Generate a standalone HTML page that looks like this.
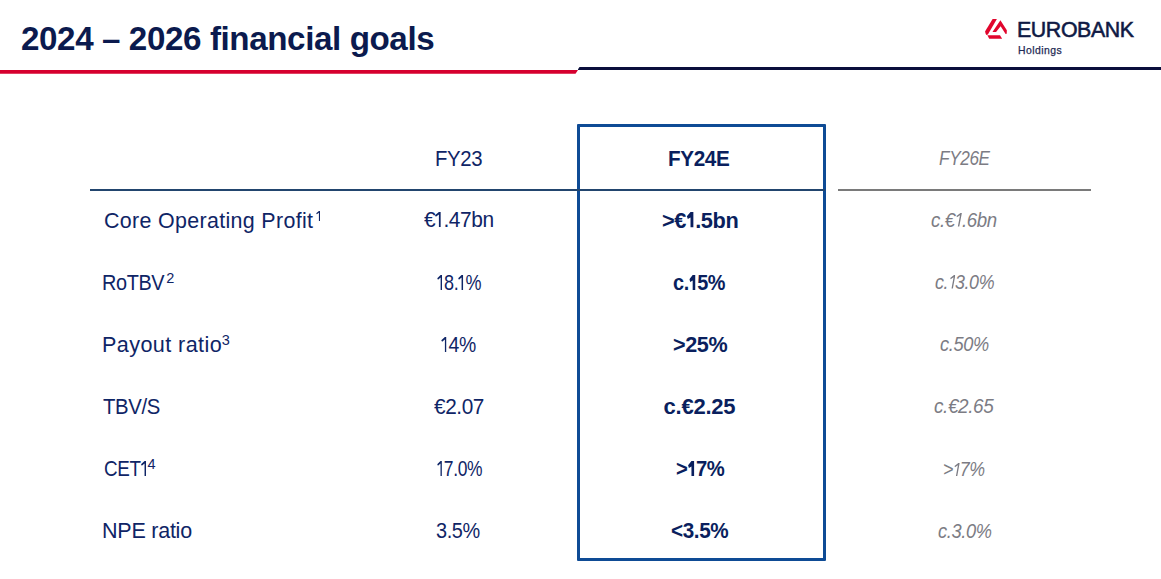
<!DOCTYPE html>
<html>
<head>
<meta charset="utf-8">
<style>
html,body{margin:0;padding:0;background:#fff;}
body{width:1161px;height:579px;position:relative;overflow:hidden;font-family:"Liberation Sans",sans-serif;}
.t{position:absolute;white-space:nowrap;line-height:1;transform-origin:0 0;}
.g1{display:inline-block;height:0.695em;width:0.292em;vertical-align:baseline;fill:currentColor;margin:0 0.11em 0 -0.01em;}
.gb{width:0.32em;margin:0 0.09em 0 0.01em;}
.gi{width:0.43em;margin:0 -0.02em 0 -0.03em;}
.x1{font-size:0;letter-spacing:0;}
.b{display:inline-block;width:0;height:0;vertical-align:baseline;}
.redline{position:absolute;left:0;top:70px;width:578px;height:3.8px;background:#d6002e;clip-path:polygon(0 0,100% 0,calc(100% - 2.5px) 100%,0 100%);}
.navyline{position:absolute;left:577.5px;top:67px;width:584px;height:3px;background:#0a0f3c;clip-path:polygon(2px 0,100% 0,100% 100%,0 100%);}
.logo{position:absolute;left:983px;top:17px;width:26px;height:24px;}
.box{position:absolute;left:577px;top:124px;width:243px;height:431px;border:3px solid #0e4b95;border-radius:1px;}
.hline{position:absolute;left:90px;top:189px;width:735px;height:2px;background:#22456e;}
.gline{position:absolute;left:838px;top:189px;width:253px;height:2px;background:#7a7a7a;}
</style>
</head>
<body>
<div class="redline"></div>
<div class="navyline"></div>
<svg class="logo" viewBox="0 0 627 579">
<path fill="#e1062d" d="M232 50L335 50L118 420L80 432Q50 400 52 345Z"/>
<path fill="#e1062d" d="M105 440L410 440L462 522L150 522Z"/>
<path fill="#e1062d" d="M420 80L575 320L572 405L545 410L425 225L315 362L228 362Z"/>
</svg>
<div class="box"></div>
<div class="hline"></div>
<div class="gline"></div>
<div class="t" id="title" style="left:20.80px;top:22.01px;font-size:33.5px;letter-spacing:-0.400px;color:#0b1a4e;transform:scaleX(0.9899);font-weight:bold;">2024 – 2026 financial goals<i class="b"></i></div>
<div class="t" id="eb" style="left:1016.60px;top:18.50px;font-size:21.8px;letter-spacing:-0.400px;color:#0f1a45;transform:scaleX(0.9792);-webkit-text-stroke:0.55px;">EUROBANK<i class="b"></i></div>
<div class="t" id="hold" style="left:1017.60px;top:45.21px;font-size:10.5px;letter-spacing:0.457px;color:#1f2a55;transform:scaleX(0.9912);-webkit-text-stroke:0.25px;">Holdings<i class="b"></i></div>
<div class="t" id="h1" style="left:435.10px;top:149.01px;font-size:21.5px;letter-spacing:-0.400px;color:#0f2566;transform:scaleX(0.9463);">FY23<i class="b"></i></div>
<div class="t" id="h2" style="left:668.10px;top:148.00px;font-size:22px;letter-spacing:-0.400px;color:#0a1f5e;transform:scaleX(0.9401);font-weight:bold;">FY24E<i class="b"></i></div>
<div class="t" id="h3" style="left:938.50px;top:149.00px;font-size:19.5px;letter-spacing:-0.400px;color:#7c7c84;transform:scaleX(0.8798);font-style:italic;">FY26E<i class="b"></i></div>
<div class="t" id="l1" style="left:103.90px;top:211.01px;font-size:21.5px;letter-spacing:0.335px;color:#0f2566;transform:scaleX(0.9957);">Core Operating Profit<i class="b"></i></div>
<div class="t" id="s1" style="left:316.00px;top:208.72px;font-size:14.5px;letter-spacing:0.000px;color:#0f2566;"><span class="x1">1</span><svg class="g1" viewBox="0 0 42 100" preserveAspectRatio="none"><path d="M29 0H41V100H29V17L8 32L2 22Z"/></svg><i class="b"></i></div>
<div class="t" id="v11" style="left:424.10px;top:210.40px;font-size:21.5px;letter-spacing:-0.400px;color:#0f2566;transform:scaleX(0.9724);">€<span class="x1">1</span><svg class="g1" viewBox="0 0 42 100" preserveAspectRatio="none"><path d="M29 0H41V100H29V17L8 32L2 22Z"/></svg>.47bn<i class="b"></i></div>
<div class="t" id="v12" style="left:661.90px;top:209.61px;font-size:22px;letter-spacing:-0.400px;color:#0a1f5e;transform:scaleX(0.9897);font-weight:bold;">&gt;€<span class="x1">1</span><svg class="g1 gb" viewBox="0 0 46 100" preserveAspectRatio="none"><path d="M25 0H45V100H25V36L7 46L1 28Z"/></svg>.5bn<i class="b"></i></div>
<div class="t" id="v13" style="left:931.40px;top:210.81px;font-size:19.5px;letter-spacing:-0.400px;color:#7c7c84;transform:scaleX(0.9574);font-style:italic;">c.€<span class="x1">1</span><svg class="g1 gi" viewBox="0 0 62 100" preserveAspectRatio="none"><path transform="translate(20,0) skewX(-11.3)" d="M30 0H41V100H30V17L9 31L4 22Z"/></svg>.6bn<i class="b"></i></div>
<div class="t" id="l2" style="left:102.20px;top:272.60px;font-size:21.5px;letter-spacing:-0.400px;color:#0f2566;transform:scaleX(0.9240);">RoTBV<i class="b"></i></div>
<div class="t" id="s2" style="left:166.30px;top:270.91px;font-size:14.5px;letter-spacing:0.000px;color:#0f2566;">2<i class="b"></i></div>
<div class="t" id="v21" style="left:437.30px;top:273.20px;font-size:21.5px;letter-spacing:-0.400px;color:#0f2566;transform:scaleX(0.8378);"><span class="x1">1</span><svg class="g1" viewBox="0 0 42 100" preserveAspectRatio="none"><path d="M29 0H41V100H29V17L8 32L2 22Z"/></svg>8.<span class="x1">1</span><svg class="g1" viewBox="0 0 42 100" preserveAspectRatio="none"><path d="M29 0H41V100H29V17L8 32L2 22Z"/></svg>%<i class="b"></i></div>
<div class="t" id="v22" style="left:672.60px;top:272.22px;font-size:22px;letter-spacing:-0.400px;color:#0a1f5e;transform:scaleX(0.9020);font-weight:bold;">c.<span class="x1">1</span><svg class="g1 gb" viewBox="0 0 46 100" preserveAspectRatio="none"><path d="M25 0H45V100H25V36L7 46L1 28Z"/></svg>5%<i class="b"></i></div>
<div class="t" id="v23" style="left:934.90px;top:273.00px;font-size:19.5px;letter-spacing:-0.400px;color:#7c7c84;transform:scaleX(0.9158);font-style:italic;">c.<span class="x1">1</span><svg class="g1 gi" viewBox="0 0 62 100" preserveAspectRatio="none"><path transform="translate(20,0) skewX(-11.3)" d="M30 0H41V100H30V17L9 31L4 22Z"/></svg>3.0%<i class="b"></i></div>
<div class="t" id="l3" style="left:102.20px;top:335.01px;font-size:21.5px;letter-spacing:0.409px;color:#0f2566;transform:scaleX(1.0043);">Payout ratio<i class="b"></i></div>
<div class="t" id="s3" style="left:221.70px;top:332.81px;font-size:14.5px;letter-spacing:0.000px;color:#0f2566;">3<i class="b"></i></div>
<div class="t" id="v31" style="left:441.20px;top:335.31px;font-size:21.5px;letter-spacing:-0.400px;color:#0f2566;transform:scaleX(0.9028);"><span class="x1">1</span><svg class="g1" viewBox="0 0 42 100" preserveAspectRatio="none"><path d="M29 0H41V100H29V17L8 32L2 22Z"/></svg>4%<i class="b"></i></div>
<div class="t" id="v32" style="left:672.60px;top:334.22px;font-size:22px;letter-spacing:-0.400px;color:#0a1f5e;transform:scaleX(0.9801);font-weight:bold;">&gt;25%<i class="b"></i></div>
<div class="t" id="v33" style="left:939.60px;top:335.22px;font-size:19.5px;letter-spacing:-0.400px;color:#7c7c84;transform:scaleX(0.9348);font-style:italic;">c.50%<i class="b"></i></div>
<div class="t" id="l4" style="left:102.50px;top:397.01px;font-size:21.5px;letter-spacing:-0.400px;color:#0f2566;transform:scaleX(0.9450);">TBV/S<i class="b"></i></div>
<div class="t" id="v41" style="left:433.60px;top:397.20px;font-size:21.5px;letter-spacing:-0.400px;color:#0f2566;transform:scaleX(0.9655);">€2.07<i class="b"></i></div>
<div class="t" id="v42" style="left:663.50px;top:396.22px;font-size:22px;letter-spacing:-0.217px;color:#0a1f5e;font-weight:bold;">c.€2.25<i class="b"></i></div>
<div class="t" id="v43" style="left:934.10px;top:397.00px;font-size:19.5px;letter-spacing:-0.400px;color:#7c7c84;transform:scaleX(0.9695);font-style:italic;">c.€2.65<i class="b"></i></div>
<div class="t" id="l5" style="left:104.30px;top:459.01px;font-size:21.5px;letter-spacing:-0.400px;color:#0f2566;transform:scaleX(0.8751);">CET<span class="x1">1</span><svg class="g1" viewBox="0 0 42 100" preserveAspectRatio="none"><path d="M29 0H41V100H29V17L8 32L2 22Z"/></svg><i class="b"></i></div>
<div class="t" id="s5" style="left:147.50px;top:456.91px;font-size:14.5px;letter-spacing:0.000px;color:#0f2566;">4<i class="b"></i></div>
<div class="t" id="v51" style="left:436.80px;top:459.31px;font-size:21.5px;letter-spacing:-0.400px;color:#0f2566;transform:scaleX(0.8108);"><span class="x1">1</span><svg class="g1" viewBox="0 0 42 100" preserveAspectRatio="none"><path d="M29 0H41V100H29V17L8 32L2 22Z"/></svg>7.0%<i class="b"></i></div>
<div class="t" id="v52" style="left:675.50px;top:458.22px;font-size:22px;letter-spacing:-0.400px;color:#0a1f5e;transform:scaleX(0.9189);font-weight:bold;">&gt;<span class="x1">1</span><svg class="g1 gb" viewBox="0 0 46 100" preserveAspectRatio="none"><path d="M25 0H45V100H25V36L7 46L1 28Z"/></svg>7%<i class="b"></i></div>
<div class="t" id="v53" style="left:943.00px;top:460.22px;font-size:19.5px;letter-spacing:-0.400px;color:#7c7c84;transform:scaleX(0.9135);font-style:italic;">&gt;<span class="x1">1</span><svg class="g1 gi" viewBox="0 0 62 100" preserveAspectRatio="none"><path transform="translate(20,0) skewX(-11.3)" d="M30 0H41V100H30V17L9 31L4 22Z"/></svg>7%<i class="b"></i></div>
<div class="t" id="l6" style="left:102.10px;top:521.01px;font-size:21.5px;letter-spacing:-0.250px;color:#0f2566;">NPE ratio<i class="b"></i></div>
<div class="t" id="v61" style="left:436.20px;top:521.01px;font-size:21.5px;letter-spacing:-0.400px;color:#0f2566;transform:scaleX(0.9259);">3.5%<i class="b"></i></div>
<div class="t" id="v62" style="left:671.30px;top:520.00px;font-size:22px;letter-spacing:-0.400px;color:#0a1f5e;transform:scaleX(0.9395);font-weight:bold;">&lt;3.5%<i class="b"></i></div>
<div class="t" id="v63" style="left:937.60px;top:522.22px;font-size:19.5px;letter-spacing:-0.400px;color:#7c7c84;transform:scaleX(0.9351);font-style:italic;">c.3.0%<i class="b"></i></div>
</body>
</html>
